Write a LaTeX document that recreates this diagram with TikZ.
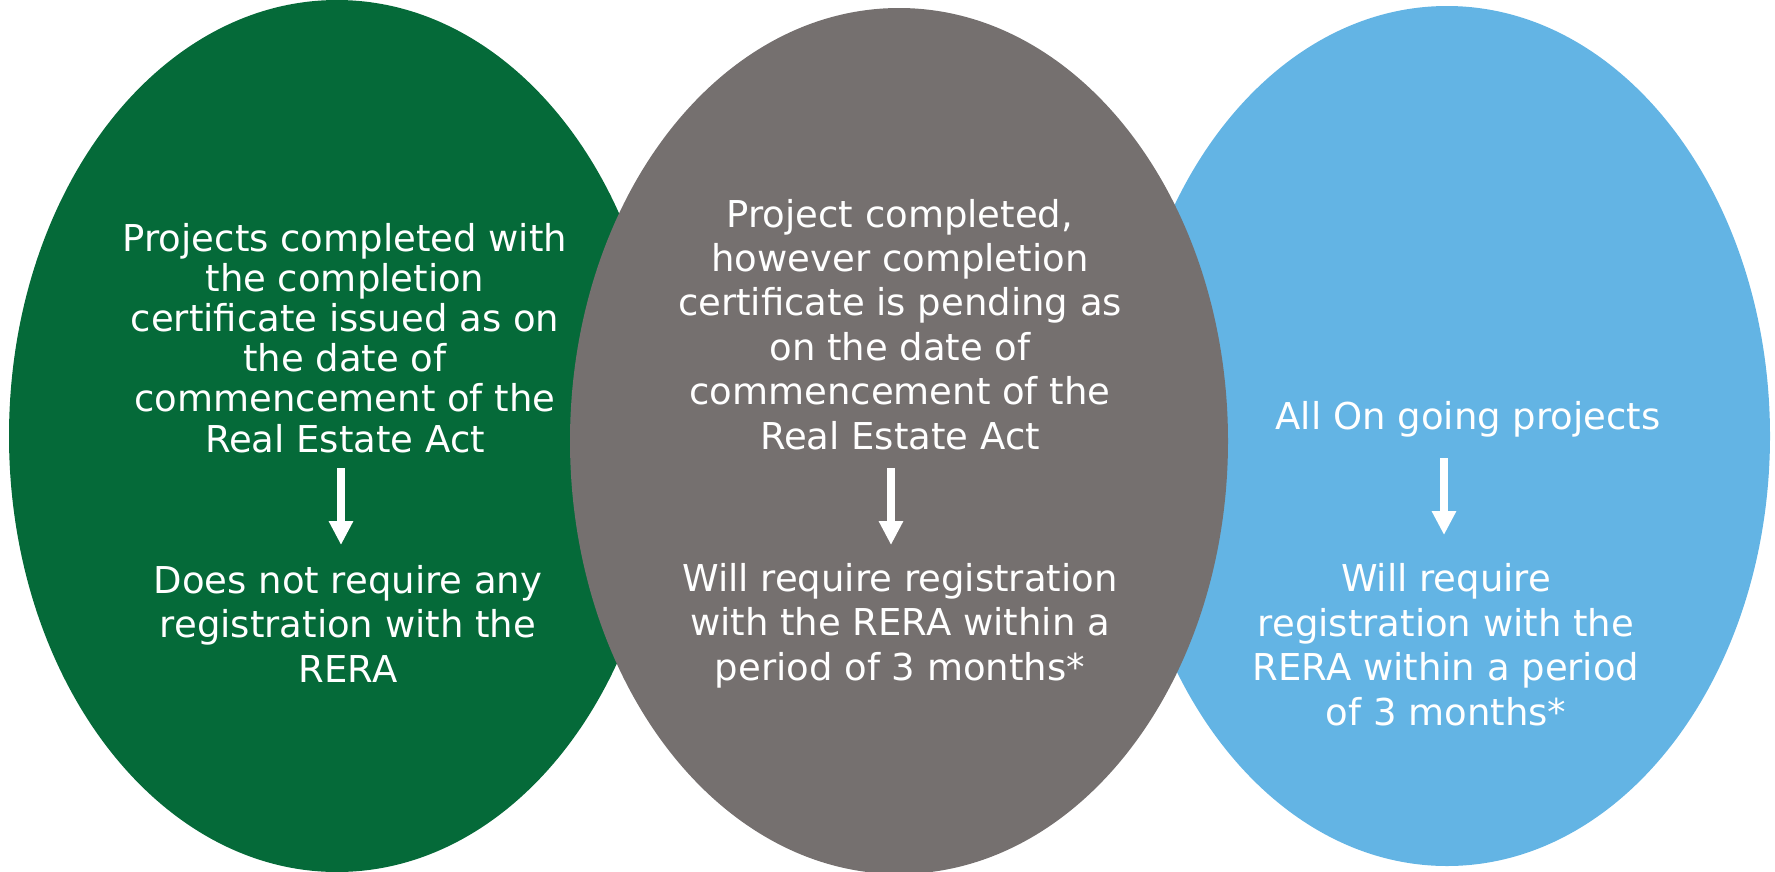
\documentclass[tikz,border=0pt]{standalone}
\usepackage{fontspec}
\setmainfont{DejaVu Sans}
\usetikzlibrary{arrows.meta}
\definecolor{leafgreen}{RGB}{5,106,57}
\definecolor{stonegray}{RGB}{117,112,111}
\definecolor{skyblue}{RGB}{99,180,228}
\tikzset{
  % base anchor sits on the last line's baseline
  txt/.style={text=white, align=center, inner sep=0pt, anchor=base,
    font=\fontsize{37}{44.4}\selectfont},
  tighttxt/.style={txt, font=\fontsize{37}{40.2}\selectfont},
  downarrow/.style={draw=white, line width=8pt,
    -{Triangle[width=23pt,length=24pt]}}
}
\begin{document}
\begin{tikzpicture}[x=1pt,y=-1pt]
  \useasboundingbox (0,0) rectangle (1775,871);

  % the three overlapping ovals, middle one on top
  \fill[leafgreen] (337,436) ellipse [x radius=328, y radius=436];
  \fill[skyblue]   (1447,436) ellipse [x radius=323, y radius=430];
  \fill[stonegray] (899,441) ellipse [x radius=329, y radius=433];

  % left oval
  \node[tighttxt] (g1) at (345,452) {Projects completed with\\the completion\\certificate issued as on\\the date of\\commencement of the\\Real Estate Act};
  \node[txt] (g2) at (348,682) {Does not require any\\registration with the\\RERA};
  \coordinate (g1a) at (341,468);
  \coordinate (g2a) at (341,545);
  \draw[downarrow] (g1a) -- (g2a);

  % middle oval
  \node[txt] (m1) at (900,449) {Project completed,\\however completion\\certificate is pending as\\on the date of\\commencement of the\\Real Estate Act};
  \node[txt] (m2) at (900,680) {Will require registration\\with the RERA within a\\period of 3 months*};
  \coordinate (m1a) at (891,468);
  \coordinate (m2a) at (891,545);
  \draw[downarrow] (m1a) -- (m2a);

  % right oval
  \node[txt] (b1) at (1468,429) {All On going projects};
  \node[txt] (b2) at (1446,725) {Will require\\registration with the\\RERA within a period\\of 3 months*};
  \coordinate (b1a) at (1444,458);
  \coordinate (b2a) at (1444,535);
  \draw[downarrow] (b1a) -- (b2a);
\end{tikzpicture}
\end{document}
